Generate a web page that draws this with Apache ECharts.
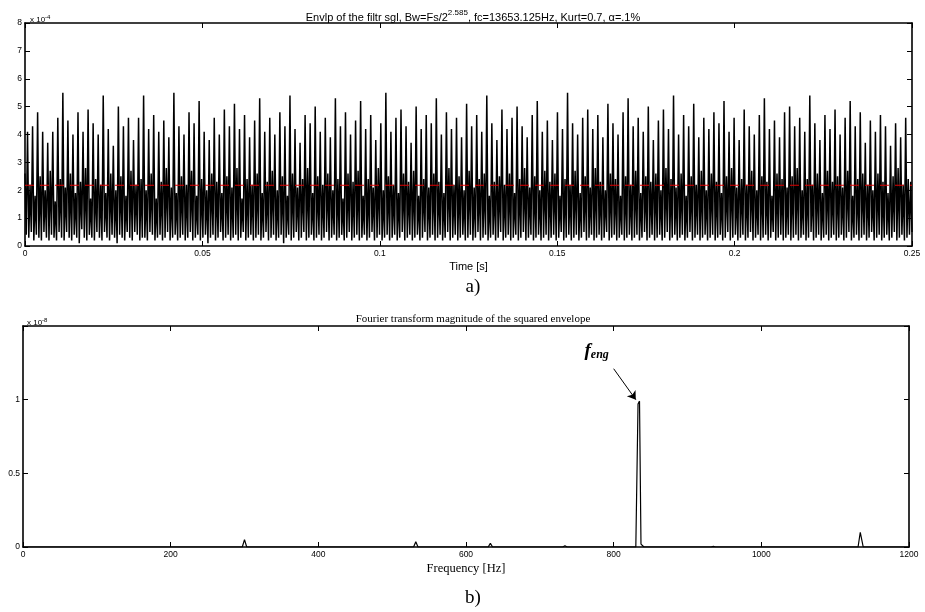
<!DOCTYPE html>
<html><head><meta charset="utf-8">
<script src="https://cdn.jsdelivr.net/npm/echarts@6/dist/echarts.min.js"></script>
<style>html,body{margin:0;padding:0;background:#fff}#c{width:925px;height:612px}</style>
</head><body><div id="c"></div>
<script>
// ---- Panel a) envelope of the filtered signal (values in units of 1e-4) ----
const envelope = [
2.6,0.4,4.1,0.3, 2.2,0.5,4.3,0.2, 1.8,0.4,4.8,0.3, 2.5,0.2,4.1,0.5, 2.0,0.3,3.7,0.2, 2.7,0.4,4.1,0.3, 1.6,0.2,4.6,0.5, 2.4,0.3,5.5,0.2,
2.1,0.5,4.5,0.3, 2.6,0.2,4.0,0.4, 1.9,0.3,4.8,0.1, 2.3,0.6,4.1,0.3, 2.8,0.2,4.9,0.4, 1.7,0.3,4.4,0.2, 2.4,0.5,4.0,0.3, 2.2,0.2,5.4,0.5,
1.9,0.3,4.2,0.2, 2.6,0.4,3.6,0.3, 2.0,0.1,5.0,0.4, 2.5,0.3,4.3,0.2, 1.8,0.5,4.6,0.3, 2.7,0.2,3.8,0.5, 2.2,0.4,4.6,0.2, 2.4,0.3,5.4,0.3,
2.0,0.2,4.2,0.5, 2.6,0.4,4.7,0.2, 1.7,0.3,4.1,0.4, 2.3,0.2,4.5,0.3, 2.8,0.5,3.9,0.2, 2.1,0.3,5.5,0.4, 1.9,0.2,4.3,0.3, 2.5,0.4,4.0,0.2,
2.2,0.3,4.8,0.5, 2.7,0.2,4.4,0.3, 1.8,0.4,5.2,0.2, 2.4,0.3,4.1,0.4, 2.0,0.1,3.8,0.3, 2.6,0.4,4.6,0.2, 2.3,0.3,4.0,0.5, 1.9,0.2,4.9,0.3,
2.5,0.4,4.3,0.2, 2.1,0.3,5.1,0.4, 2.8,0.2,4.2,0.3, 1.7,0.5,4.7,0.2, 2.4,0.3,3.9,0.4, 2.2,0.2,4.5,0.3, 2.6,0.4,5.3,0.2, 1.9,0.3,4.1,0.5,
2.3,0.2,4.6,0.3, 2.7,0.4,4.0,0.2, 2.0,0.3,4.8,0.4, 2.5,0.1,4.3,0.3, 1.8,0.4,5.4,0.2, 2.6,0.3,4.2,0.5, 2.1,0.2,3.7,0.3, 2.4,0.5,4.7,0.2,
2.8,0.3,4.4,0.4, 1.9,0.2,5.0,0.3, 2.5,0.4,4.1,0.2, 2.2,0.3,4.6,0.5, 2.6,0.2,3.9,0.3, 2.0,0.4,5.3,0.2, 2.4,0.3,4.3,0.4, 1.7,0.2,4.8,0.3,
2.6,0.5,4.0,0.2, 2.3,0.3,4.5,0.4, 2.7,0.2,5.2,0.3, 1.8,0.4,4.2,0.2, 2.4,0.3,4.7,0.5, 2.1,0.2,3.8,0.3, 2.8,0.4,4.4,0.2, 2.0,0.3,5.5,0.4,
2.5,0.2,4.1,0.3, 2.2,0.4,4.6,0.2, 1.9,0.3,4.9,0.5, 2.6,0.2,4.3,0.3, 2.3,0.4,3.7,0.2, 2.7,0.3,5.0,0.4, 1.8,0.2,4.2,0.3, 2.4,0.5,4.7,0.2,
2.1,0.3,4.4,0.4, 2.6,0.2,5.3,0.3, 2.3,0.4,4.0,0.2, 1.9,0.3,4.8,0.5, 2.8,0.2,4.2,0.3, 2.2,0.4,4.6,0.2, 2.5,0.3,3.9,0.4, 2.0,0.2,5.1,0.3,
2.7,0.4,4.3,0.2, 2.1,0.3,4.7,0.5, 2.4,0.2,4.1,0.3, 2.6,0.4,5.4,0.2, 1.8,0.3,4.4,0.4, 2.3,0.2,3.8,0.3, 2.5,0.5,4.9,0.2, 2.2,0.3,4.2,0.4,
2.6,0.2,4.6,0.3, 1.9,0.4,5.0,0.2, 2.4,0.3,4.3,0.5, 2.8,0.2,3.9,0.3, 2.1,0.4,4.7,0.2, 2.5,0.3,5.2,0.4, 2.0,0.2,4.1,0.3, 2.7,0.4,4.5,0.2,
2.3,0.3,3.8,0.4, 2.6,0.2,4.8,0.3, 1.8,0.5,4.2,0.2, 2.4,0.3,5.5,0.4, 2.2,0.2,4.4,0.3, 2.7,0.4,4.0,0.2, 1.9,0.3,4.6,0.5, 2.5,0.2,4.9,0.3,
2.1,0.4,4.2,0.2, 2.8,0.3,4.7,0.4, 2.3,0.2,3.9,0.3, 2.0,0.5,5.1,0.2, 2.6,0.3,4.4,0.4, 2.4,0.2,4.0,0.3, 1.8,0.4,4.8,0.2, 2.5,0.3,5.3,0.4,
2.2,0.2,4.3,0.3, 2.7,0.4,4.6,0.2, 1.9,0.3,4.1,0.5, 2.5,0.2,5.0,0.3, 2.3,0.4,3.8,0.2, 2.6,0.3,4.5,0.4, 2.0,0.2,4.9,0.3, 2.8,0.5,4.2,0.2,
2.4,0.3,5.4,0.4, 2.1,0.2,4.0,0.3, 2.6,0.4,4.7,0.2, 1.8,0.3,4.3,0.5, 2.5,0.2,5.1,0.3, 2.2,0.4,3.9,0.2, 2.7,0.3,4.6,0.4, 2.0,0.2,4.2,0.3,
2.6,0.4,4.8,0.2, 2.3,0.3,4.4,0.4, 1.9,0.2,5.2,0.3, 2.5,0.5,4.1,0.2, 2.8,0.3,4.6,0.4, 2.1,0.2,3.8,0.3, 2.4,0.4,4.9,0.2, 2.2,0.3,4.3,0.5,
2.7,0.2,4.0,0.3, 2.0,0.4,4.7,0.2, 2.5,0.3,5.3,0.4, 2.3,0.2,4.2,0.3, 1.8,0.5,4.5,0.2, 2.6,0.3,3.9,0.4, 2.4,0.2,4.8,0.3, 2.1,0.4,5.0,0.2,
2.5,0.3,4.3,0.4, 2.8,0.2,4.6,0.3, 2.0,0.4,4.1,0.2, 2.4,0.3,5.4,0.5, 2.2,0.2,4.4,0.3, 2.6,0.4,3.8,0.2, 1.9,0.3,4.7,0.4, 2.7,0.2,4.2,0.3,
2.3,0.4,4.9,0.2, 2.5,0.3,4.0,0.4, 2.1,0.2,4.6,0.3, 2.7,0.5,5.2,0.2, 1.8,0.3,4.3,0.4, 2.4,0.2,4.8,0.3, 2.6,0.4,3.7,0.2, 2.2,0.3,4.5,0.5,
2.0,0.2,4.1,0.3, 2.6,0.4,4.7,0.2, 2.3,0.3,4.3,0.4, 1.9,0.2,3.6,0.3, 2.5,0.5,4.4,0.2, 2.8,0.3,3.9,0.4, 2.2,0.2,4.6,0.3, 2.4,0.4,2.3,0.5
];
const timeSpan = 0.25;            // seconds, record length
const threshold = 2.18;           // red dashed level (1e-4)

// ---- Panel b) spectrum of squared envelope (values in units of 1e-8) ----
const freqHz = [0, 297, 300, 303, 529, 532, 535, 630, 633, 636, 731, 734, 737, 830, 833, 835, 837, 839, 841, 932, 935, 938, 1131, 1134, 1135, 1138, 1200];
const specMag = [0, 0, 0.05, 0, 0, 0.035, 0, 0, 0.025, 0, 0, 0.008, 0, 0, 0.97, 0.99, 0.02, 0.03, 0, 0, 0.004, 0, 0, 0.1, 0.09, 0, 0];

const sampleStep = timeSpan / (envelope.length - 1);
const envData = envelope.map((v, i) => [i * sampleStep, v]);
const specData = freqHz.map((f, i) => [f, specMag[i]]);
const thresholdData = [[0, threshold], [timeSpan, threshold]];

const chart = echarts.init(document.getElementById('c'), null, {renderer: 'canvas'});
const sans = 'Liberation Sans, Arial, sans-serif';
const serif = 'Liberation Serif, Times New Roman, serif';
const lineBlk = {color: '#000', width: 1.6};

function boxAxes(gi, xmin, xmax, xint, ymin, ymax, yint, fontFam, xfmt, yfmt, xname, xnameFont, xnameSize) {
  const tick = {inside: true, length: 5, lineStyle: {color: '#000', width: 1}};
  return {
    x: [
      {type: 'value', gridIndex: gi, min: xmin, max: xmax, interval: xint, position: 'bottom',
       axisLine: {show: true, onZero: false, lineStyle: lineBlk}, axisTick: tick,
       axisLabel: {color: '#000', fontFamily: fontFam, fontSize: 8.5, margin: 3, formatter: xfmt},
       splitLine: {show: false}, name: xname, nameLocation: 'middle', nameGap: 15,
       nameTextStyle: {color: '#000', fontFamily: xnameFont, fontSize: xnameSize}},
      {type: 'value', gridIndex: gi, min: xmin, max: xmax, interval: xint, position: 'top',
       axisLine: {show: true, onZero: false, lineStyle: lineBlk}, axisTick: tick,
       axisLabel: {show: false}, splitLine: {show: false}}
    ],
    y: [
      {type: 'value', gridIndex: gi, min: ymin, max: ymax, interval: yint, position: 'left',
       axisLine: {show: true, onZero: false, lineStyle: lineBlk}, axisTick: tick,
       axisLabel: {color: '#000', fontFamily: fontFam, fontSize: 8.5, margin: 3, formatter: yfmt},
       splitLine: {show: false}},
      {type: 'value', gridIndex: gi, min: ymin, max: ymax, interval: yint, position: 'right',
       axisLine: {show: true, onZero: false, lineStyle: lineBlk}, axisTick: tick,
       axisLabel: {show: false}, splitLine: {show: false}}
    ]
  };
}

const a = boxAxes(0, 0, timeSpan, 0.05, 0, 8, 1, sans,
  v => String(+v.toFixed(2)), v => String(v), 'Time [s]', sans, 11);
const b = boxAxes(1, 0, 1200, 200, 0, 1.5, 0.5, sans,
  v => String(v), v => (v > 1.2 ? '' : String(v)), 'Frequency [Hz]', serif, 12.5);

const supRich = {t: {fontFamily: sans, fontSize: 8, fontWeight: 'normal', color: '#000', lineHeight: 10},
                 s: {fontFamily: sans, fontSize: 6, fontWeight: 'normal', color: '#000', padding: [0,0,6,0]}};

const option = {
  animation: false,
  backgroundColor: '#fff',
  title: [
    {text: '{t|Envlp of the filtr sgl, Bw=Fs/2}{s|2.585}{t|, fc=13653.125Hz, Kurt=0.7, α=.1%}',
     left: 468, top: 4, textAlign: 'center',
     textStyle: {rich: {t: {fontFamily: sans, fontSize: 11, fontWeight: 'normal', color: '#000', lineHeight: 14, verticalAlign: 'bottom'},
                        s: {fontFamily: sans, fontSize: 8, fontWeight: 'normal', color: '#000', lineHeight: 14, verticalAlign: 'top', padding: [0,0,6,0]}}}},
    {text: '{t|x 10}{s|-4}', left: 25, top: 9, textStyle: {rich: supRich}},
    {text: 'a)', left: 468, top: 273, textAlign: 'center',
     textStyle: {fontFamily: serif, fontSize: 19, fontWeight: 'normal', color: '#000'}},
    {text: 'Fourier transform magnitude of the squared envelope', left: 468, top: 309, textAlign: 'center',
     textStyle: {fontFamily: serif, fontSize: 11, fontWeight: 'normal', color: '#000'}},
    {text: '{t|x 10}{s|-8}', left: 22, top: 312, textStyle: {rich: supRich}},
    {text: 'b)', left: 468, top: 584, textAlign: 'center',
     textStyle: {fontFamily: serif, fontSize: 19, fontWeight: 'normal', color: '#000'}}
  ],
  grid: [
    {left: 25, right: 13, top: 23, height: 223, containLabel: false},
    {left: 23, right: 16, top: 326, height: 221, containLabel: false}
  ],
  xAxis: [a.x[0], a.x[1], b.x[0], b.x[1]],
  yAxis: [a.y[0], a.y[1], b.y[0], b.y[1]],
  series: [
    {type: 'line', xAxisIndex: 0, yAxisIndex: 0, data: envData, showSymbol: false, symbol: 'none',
     lineStyle: {color: '#000', width: 1.5}, sampling: null, z: 2},
    {type: 'line', xAxisIndex: 0, yAxisIndex: 0, data: thresholdData, showSymbol: false, symbol: 'none', z: 10,
     lineStyle: {color: '#e00000', width: 1.2, type: [9, 6]}},
    {type: 'line', xAxisIndex: 2, yAxisIndex: 2, data: specData, showSymbol: false, symbol: 'none',
     lineStyle: {color: '#000', width: 1.2}, z: 2,
     markLine: {silent: true, symbol: ['none', 'arrow'], symbolSize: 8, label: {show: false},
       lineStyle: {color: '#000', width: 1, type: 'solid'},
       data: [[{coord: [800, 1.21]}, {coord: [830, 1.0]}]]},
     markPoint: {silent: true, symbol: 'circle', symbolSize: 0,
       label: {show: true, position: 'inside', formatter: '{f|f}{e|eng}',
         rich: {f: {fontFamily: serif, fontSize: 19, fontStyle: 'italic', fontWeight: 'bold', color: '#000'},
                e: {fontFamily: serif, fontSize: 12, fontStyle: 'italic', fontWeight: 'bold', color: '#000', padding: [8,0,0,0]}}},
       data: [{coord: [777, 1.33]}]}}
  ]
};
chart.setOption(option);
</script></body></html>
